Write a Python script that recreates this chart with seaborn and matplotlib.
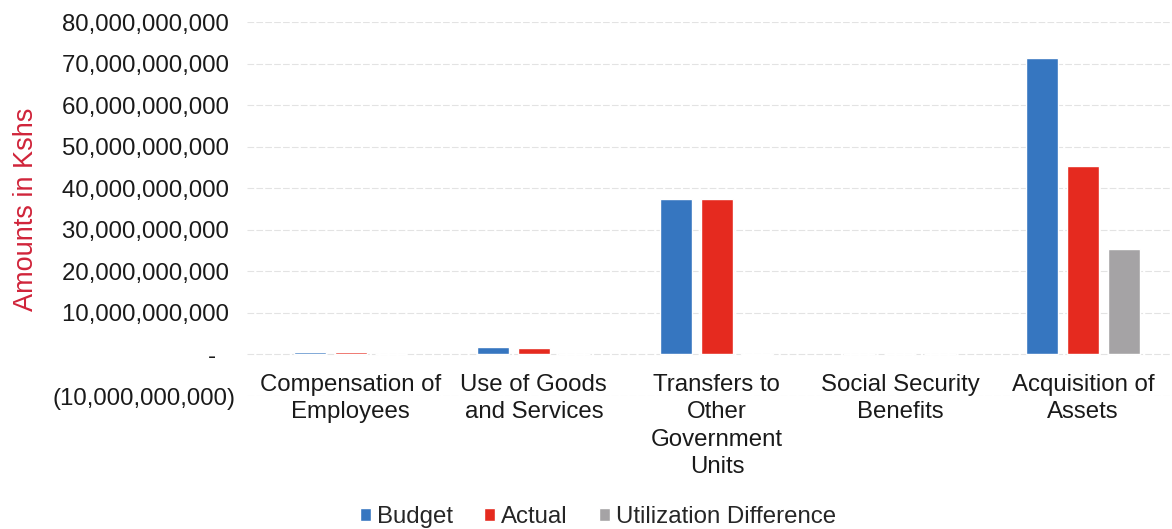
import matplotlib
matplotlib.use("Agg")
import matplotlib.pyplot as plt
import matplotlib.ticker as mticker
import seaborn as sns
import pandas as pd

categories = ["Compensation of\nEmployees", "Use of Goods\nand Services",
              "Transfers to\nOther\nGovernment\nUnits", "Social Security\nBenefits",
              "Acquisition of\nAssets"]
budget = [0.5e9, 1.7e9, 37.3e9, 0.0, 71.4e9]
actual = [0.5e9, 1.6e9, 37.5e9, 0.0, 45.4e9]
util_diff = [0.0, 0.1e9, -0.2e9, 0.0, 25.3e9]
series = ["Budget", "Actual", "Utilization Difference"]
colors = ["#3676C0", "#E52A1F", "#A5A3A5"]

rows = []
for s, vals in zip(series, [budget, actual, util_diff]):
    for c, v in zip(categories, vals):
        rows.append({"Category": c, "Series": s, "Value": v})
df = pd.DataFrame(rows)

sns.set_style("white")
plt.rcParams["font.family"] = ["Liberation Sans", "DejaVu Sans"]

fig = plt.figure(figsize=(11.72, 5.29), dpi=100)
ax = fig.add_axes([247 / 1172, 0.2514, 0.7914, 0.7070])

sns.barplot(data=df, x="Category", y="Value", hue="Series", palette=colors,
            order=categories, hue_order=series, width=0.664, gap=0.21,
            saturation=1, ax=ax, legend=True, errorbar=None)

ax.set_ylim(-10e9, 80e9)
ax.set_xlim(-0.567, 4.5)
ax.yaxis.set_major_locator(mticker.MultipleLocator(10e9))

def fmt(v, pos):
    if abs(v) < 1:
        return "-   "
    if v < 0:
        return "({:,.0f})".format(-v)
    return "{:,.0f} ".format(v)

ax.yaxis.set_major_formatter(mticker.FuncFormatter(fmt))
ax.grid(axis="y", color="#e3e3e3", linewidth=0.8, linestyle=(0, (6, 2)))
ax.set_axisbelow(True)
for sp in ["top", "right", "left"]:
    ax.spines[sp].set_visible(False)
ax.spines["bottom"].set_position(("data", 0))
ax.spines["bottom"].set_visible(False)

fs = 17.3
ax.tick_params(axis="y", length=0, pad=8, labelsize=fs, labelcolor="#1a1a1a")
ax.tick_params(axis="x", length=0, pad=14, labelsize=fs, labelcolor="#1a1a1a")
for lab in ax.get_xticklabels():
    lab.set_linespacing(1.32)
ax.set_xlabel("")
ax.set_ylabel("Amounts in Kshs", color="#D0243A", fontsize=19.5, labelpad=10)

ax.legend(handles=ax.get_legend_handles_labels()[0], labels=series,
          loc="lower center", bbox_to_anchor=(598 / 1172, -0.016),
          bbox_transform=fig.transFigure, ncol=3, frameon=False,
          fontsize=fs, handlelength=0.45, handleheight=0.45,
          handletextpad=0.25, columnspacing=1.3, borderaxespad=0.0)

fig.savefig("out.png", dpi=100)
